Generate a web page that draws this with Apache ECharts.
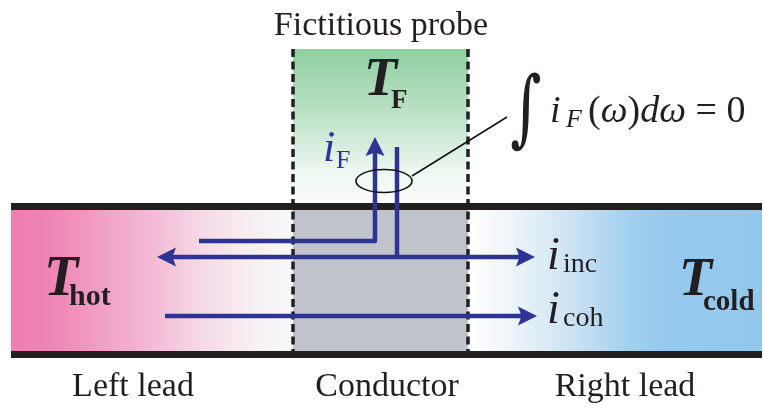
<!DOCTYPE html>
<html><head><meta charset="utf-8">
<script src="https://cdn.jsdelivr.net/npm/echarts@6/dist/echarts.min.js"></script>
<style>html,body{margin:0;padding:0;background:#fff}#c{width:764px;height:410px}</style>
</head><body><div id="c"></div>
<script>
// ---- diagram data (diagram units: x 0..764, y 0..410 downward) ----
const channel = [[11, 210, 762, 351]];
const conductor = [[293, 210, 468, 351]];
const probe = [[293, 49, 468, 203]];
const walls = [[11, 203, 762, 210], [11, 351, 762, 358]];
const probeEdges = [[293, 49, 356], [468, 49, 356]];
const currentPaths = [
  [[199, 241], [375, 241], [375, 137]],
  [[397, 257], [397, 147]],
  [[157, 257], [535, 257]],
  [[165, 316], [537, 316]]
];
const currentHeads = [[false, true], [false, false], [true, true], [false, true]];
const probeLoop = [[384, 181, 28, 11.5]];
const loopPointer = [[412, 176, 507, 117]];
const captions = ['Fictitious probe', 'Left lead', 'Conductor', 'Right lead'];
const temperatures = [['T', 'F'], ['T', 'hot'], ['T', 'cold']];
const currentNames = [['i', 'F'], ['i', 'inc'], ['i', 'coh']];
const sumRule = ['\u222B', 'i', 'F', '(\u03C9)d\u03C9 = 0'];

// ---- layout / styles ----
const SERIF = '"Liberation Serif", "Times New Roman", serif';
const INK = '#231f20';
const BLUE = '#2d3494';
const captionAt = [[381, 38], [133, 399], [387, 399], [625, 399]];
const tempMainAt = [[364, 99, 54], [44, 300, 56], [679, 299, 54]];
const tempSubAt = [[391, 110, 27], [69, 307, 30], [703, 312, 29]];
const nameMainAt = [[323, 164, 44], [547, 273, 46], [547, 327, 46]];
const nameSubAt = [[336, 170, 26], [563, 274, 28], [563, 328, 28]];
const nameColor = [BLUE, INK, INK];

const chart = echarts.init(document.getElementById('c'), null, {renderer: 'canvas'});

function layer(list, draw, z) {
  return {
    type: 'custom', coordinateSystem: 'cartesian2d', clip: false, z: z, silent: true,
    data: list.map((_, i) => [i, 0]),
    renderItem: (params, api) => draw(list[params.dataIndex], params.dataIndex, api)
  };
}
function rect(r, api, style) {
  const a = api.coord([r[0], r[1]]), b = api.coord([r[2], r[3]]);
  return {type: 'rect', shape: {x: Math.min(a[0], b[0]), y: Math.min(a[1], b[1]),
    width: Math.abs(b[0] - a[0]), height: Math.abs(b[1] - a[1])}, style: style};
}
function txt(api, x, base, s, font, color, align) {
  const p = api.coord([x, base]);
  return {type: 'text', x: p[0], y: p[1] - 0.34 * parseFloat(font.match(/(\d+(\.\d+)?)px/)[1]),
    style: {text: s, font: font, fill: color, align: align || 'left', verticalAlign: 'middle'}};
}
function stopsFrom(pairs, x0, x1) {
  return pairs.map(p => ({offset: (p[0] - x0) / (x1 - x0), color: p[1]}));
}
const leadStops = [[11, '#ee7fb0'], [55, '#ef86b5'], [110, '#f2a4c8'], [160, '#f4bfd8'], [200, '#f6d8e6'],
  [245, '#f7edf2'], [293, '#f7f8fa'], [468, '#ffffff'], [500, '#f3f7fb'], [545, '#dcebf6'],
  [590, '#bfdcf2'], [630, '#a2d0ef'], [665, '#95c9ed'], [762, '#93c8ec']];

function arrowHead(tip, from, api) {
  const dx = tip[0] - from[0], dy = tip[1] - from[1];
  const len = Math.hypot(dx, dy), ux = dx / len, uy = dy / len, nx = -uy, ny = ux;
  const L = 19, W = 9.5, N = 3.5;
  return {type: 'polygon', shape: {points: [
    tip,
    [tip[0] - ux * L + nx * W, tip[1] - uy * L + ny * W],
    [tip[0] - ux * (L - N), tip[1] - uy * (L - N)],
    [tip[0] - ux * L - nx * W, tip[1] - uy * L - ny * W]
  ]}, style: {fill: BLUE}};
}

const option = {
  animation: false,
  grid: {left: 0, right: 0, top: 0, bottom: 0},
  xAxis: {type: 'value', min: 0, max: 764, show: false},
  yAxis: {type: 'value', min: 0, max: 410, inverse: true, show: false},
  series: [
    layer(channel, (r, i, api) => rect(r, api, {fill: {type: 'linear', x: 0, y: 0, x2: 1, y2: 0,
      colorStops: stopsFrom(leadStops, r[0], r[2])}}), 1),
    layer(conductor, (r, i, api) => rect(r, api, {fill: '#c0c3cb'}), 2),
    layer(probe, (r, i, api) => rect(r, api, {fill: {type: 'linear', x: 0, y: 0, x2: 0, y2: 1,
      colorStops: [{offset: 0, color: '#8fcfa0'}, {offset: 0.45, color: '#bfe3c9'},
        {offset: 0.8, color: '#eef7f1'}, {offset: 1, color: '#fbfdfc'}]}}), 2),
    layer(walls, (r, i, api) => rect(r, api, {fill: INK}), 3),
    layer(probeEdges, (e, i, api) => {
      const a = api.coord([e[0], e[1]]), b = api.coord([e[0], e[2]]);
      return {type: 'line', shape: {x1: a[0], y1: a[1], x2: b[0], y2: b[1]},
        style: {stroke: INK, lineWidth: 3.5, lineDash: [8, 4.5]}};
    }, 4),
    layer(currentPaths, (path, i, api) => {
      const pts = path.map(p => api.coord(p));
      const heads = currentHeads[i];
      const line = pts.map(p => p.slice());
      if (heads[1]) {
        const t = pts[pts.length - 1], f = pts[pts.length - 2];
        const d = Math.hypot(t[0] - f[0], t[1] - f[1]);
        line[line.length - 1] = [t[0] - (t[0] - f[0]) / d * 15, t[1] - (t[1] - f[1]) / d * 15];
      }
      if (heads[0]) {
        const t = pts[0], f = pts[1];
        const d = Math.hypot(t[0] - f[0], t[1] - f[1]);
        line[0] = [t[0] - (t[0] - f[0]) / d * 15, t[1] - (t[1] - f[1]) / d * 15];
      }
      const children = [{type: 'polyline', shape: {points: line},
        style: {stroke: BLUE, lineWidth: 4.5, fill: null, lineJoin: 'round'}}];
      if (heads[1]) children.push(arrowHead(pts[pts.length - 1], pts[pts.length - 2], api));
      if (heads[0]) children.push(arrowHead(pts[0], pts[1], api));
      return {type: 'group', children: children};
    }, 5),
    layer(probeLoop, (e, i, api) => {
      const c = api.coord([e[0], e[1]]), r = api.coord([e[0] + e[2], e[1] + e[3]]);
      return {type: 'ellipse', shape: {cx: c[0], cy: c[1], rx: r[0] - c[0], ry: r[1] - c[1]},
        style: {stroke: '#111', lineWidth: 1.6, fill: null}};
    }, 6),
    layer(loopPointer, (e, i, api) => {
      const a = api.coord([e[0], e[1]]), b = api.coord([e[2], e[3]]);
      return {type: 'line', shape: {x1: a[0], y1: a[1], x2: b[0], y2: b[1]},
        style: {stroke: '#111', lineWidth: 1.5}};
    }, 6),
    layer(captions, (s, i, api) => txt(api, captionAt[i][0], captionAt[i][1], s,
      '34px ' + SERIF, INK, 'center'), 7),
    layer(temperatures, (t, i, api) => ({type: 'group', children: [
      txt(api, tempMainAt[i][0], tempMainAt[i][1], t[0], 'italic bold ' + tempMainAt[i][2] + 'px ' + SERIF, INK),
      txt(api, tempSubAt[i][0], tempSubAt[i][1], t[1], 'bold ' + tempSubAt[i][2] + 'px ' + SERIF, INK)
    ]}), 7),
    layer(currentNames, (t, i, api) => ({type: 'group', children: [
      txt(api, nameMainAt[i][0], nameMainAt[i][1], t[0], 'italic ' + nameMainAt[i][2] + 'px ' + SERIF, nameColor[i]),
      txt(api, nameSubAt[i][0], nameSubAt[i][1], t[1], nameSubAt[i][2] + 'px ' + SERIF, nameColor[i])
    ]}), 7),
    layer([sumRule], (t, i, api) => {
      const c = api.coord([526, 114]);
      return {type: 'group', children: [
        {type: 'text', x: c[0], y: c[1], scaleX: 1, scaleY: 1.4,
          style: {text: t[0], font: 'italic 60px "DejaVu Serif"', fill: INK, align: 'center', verticalAlign: 'middle'}},
        txt(api, 550, 125, t[1], 'italic 38px ' + SERIF, INK),
        txt(api, 566, 129, t[2], 'italic 26px ' + SERIF, INK),
        {type: 'text', x: api.coord([588, 0])[0], y: api.coord([0, 125])[1] - 0.34 * 38,
          style: {text: '{n|(}{g|\u03C9}{n|)}{g|d\u03C9}{n| = 0}', align: 'left', verticalAlign: 'middle',
            rich: {n: {font: '38px ' + SERIF, fill: INK}, g: {font: 'italic 38px ' + SERIF, fill: INK}}}}
      ]};
    }, 7)
  ]
};
chart.setOption(option);
</script></body></html>
